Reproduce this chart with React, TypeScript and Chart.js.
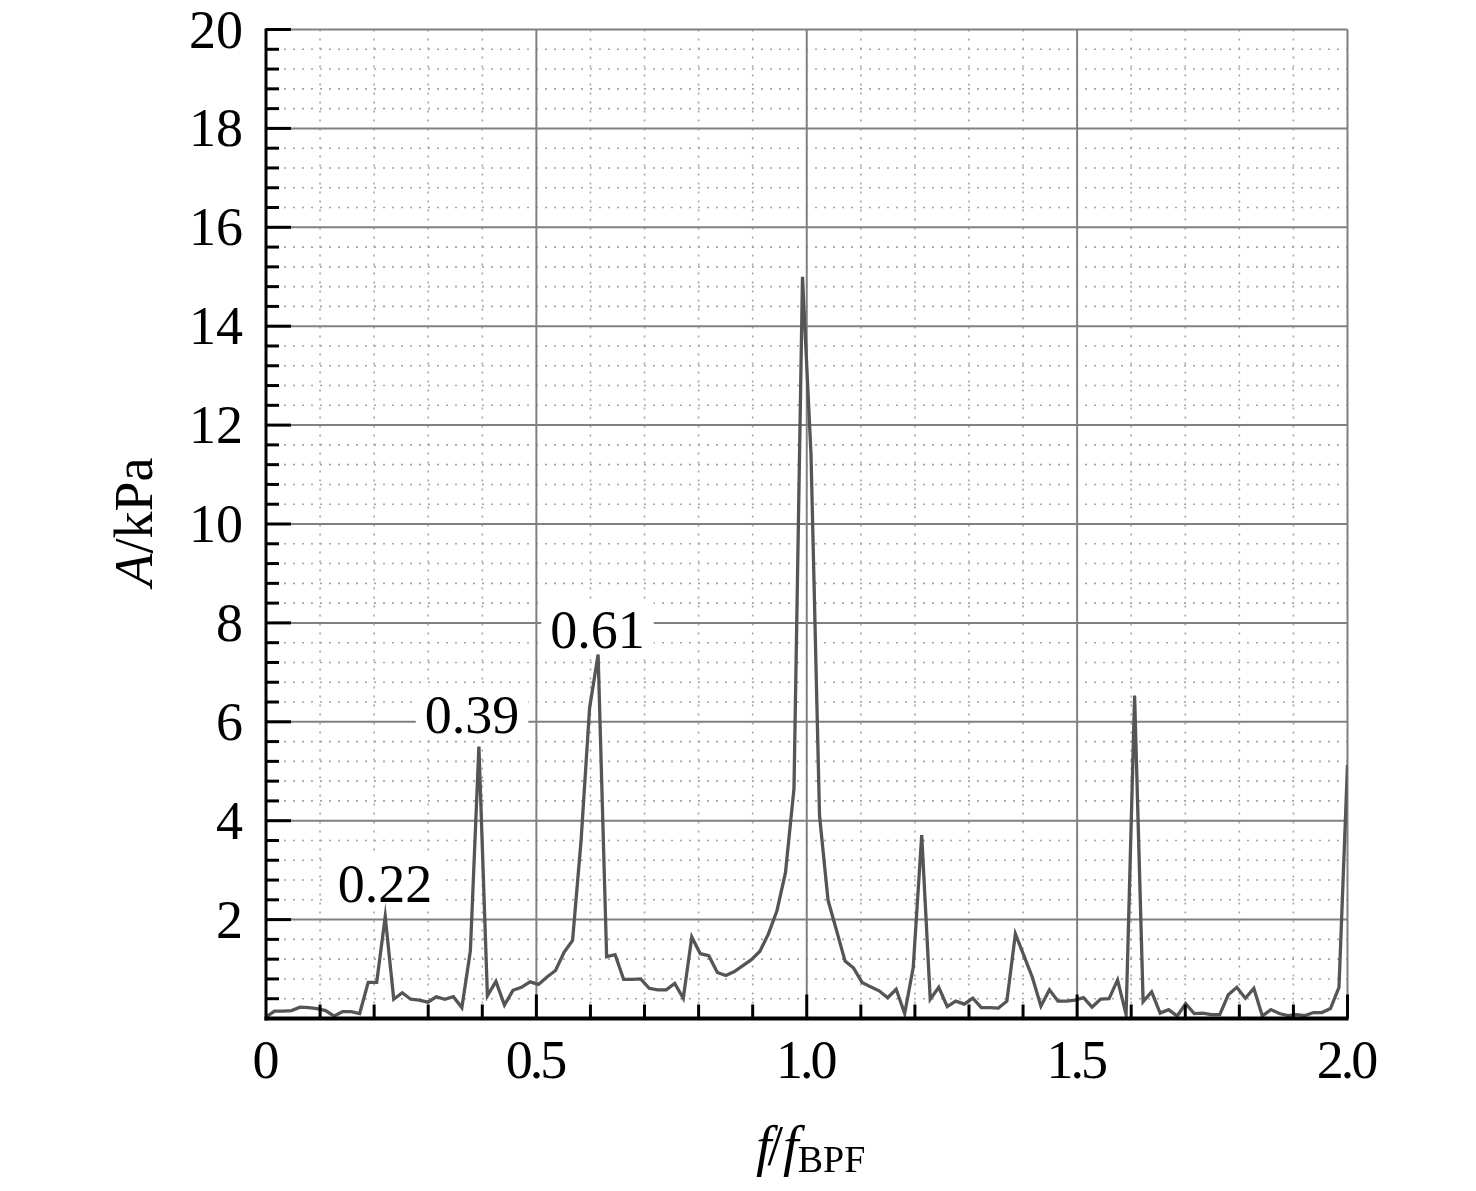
import React, { useEffect, useRef } from "react";
import { Chart, registerables } from "chart.js";

Chart.register(...registerables);

// spectrum sample spacing in f/f_BPF
const DF = 2 / 127;

// pressure amplitude A (kPa), one value per frequency bin
const amplitude = [
  0.03, 0.15, 0.15, 0.16, 0.23, 0.22, 0.2, 0.16, 0.05, 0.14,
  0.14, 0.1, 0.73, 0.73, 2.06, 0.39, 0.52, 0.39, 0.37, 0.33,
  0.44, 0.39, 0.44, 0.22, 1.37, 5.5, 0.46, 0.75, 0.27, 0.57,
  0.63, 0.74, 0.69, 0.84, 0.97, 1.34, 1.58, 3.6, 6.28, 7.36,
  1.25, 1.29, 0.79, 0.79, 0.8, 0.61, 0.58, 0.58, 0.71, 0.41,
  1.65, 1.31, 1.27, 0.93, 0.87, 0.95, 1.07, 1.19, 1.36, 1.71,
  2.18, 2.95, 4.65, 15.0, 11.4, 4.1, 2.39, 1.78, 1.16, 1.02,
  0.73, 0.64, 0.56, 0.42, 0.59, 0.1, 1.03, 3.71, 0.39, 0.63,
  0.24, 0.35, 0.29, 0.41, 0.22, 0.22, 0.21, 0.35, 1.71, 1.27,
  0.83, 0.25, 0.58, 0.35, 0.35, 0.37, 0.42, 0.23, 0.39, 0.4,
  0.78, 0.08, 6.53, 0.34, 0.54, 0.11, 0.18, 0.05, 0.3, 0.1,
  0.11, 0.08, 0.08, 0.48, 0.63, 0.41, 0.61, 0.05, 0.18, 0.1,
  0.06, 0.08, 0.06, 0.12, 0.12, 0.2, 0.63, 5.13,
];

const xTicks = [0, 0.5, 1.0, 1.5, 2.0];
const xTickLabels = ["0", "0.5", "1.0", "1.5", "2.0"];
const yTicks = [2, 4, 6, 8, 10, 12, 14, 16, 18, 20];

// peak annotations: text, x position (f/f_BPF), baseline (kPa)
const peakText = ["0.22", "0.39", "0.61"];
const peakX = [0.22, 0.381, 0.613];
const peakY = [2.36, 5.78, 7.5];

const serif = "'Liberation Serif', 'Times New Roman', serif";
const LABEL_SIZE = 54;

const line = (ctx: CanvasRenderingContext2D, x1: number, y1: number, x2: number, y2: number) => {
  ctx.beginPath();
  ctx.moveTo(x1, y1);
  ctx.lineTo(x2, y2);
  ctx.stroke();
};

const framePlugin = {
  id: "frame",
  beforeDatasetsDraw(chart: any) {
    const { ctx, chartArea: a, scales } = chart;
    const x = scales.x;
    const y = scales.y;
    ctx.save();
    // minor dotted grid
    ctx.strokeStyle = "#a4a4a4";
    ctx.lineWidth = 1.6;
    ctx.setLineDash([2, 7]);
    for (let k = 1; k < 20; k++) {
      if (k % 5 === 0) continue;
      const px = x.getPixelForValue(k * 0.1);
      line(ctx, px, a.top, px, a.bottom);
    }
    for (let k = 1; k < 50; k++) {
      if (k % 5 === 0) continue;
      const py = y.getPixelForValue(k * 0.4);
      line(ctx, a.left, py, a.right, py);
    }
    // major grid
    ctx.setLineDash([]);
    ctx.strokeStyle = "#808080";
    ctx.lineWidth = 2;
    xTicks.slice(1).forEach((v) => {
      const px = x.getPixelForValue(v);
      line(ctx, px, a.top, px, a.bottom);
    });
    yTicks.forEach((v) => {
      const py = y.getPixelForValue(v);
      line(ctx, a.left, py, a.right, py);
    });
    // white boxes behind peak labels
    ctx.font = `${LABEL_SIZE}px ${serif}`;
    ctx.fillStyle = "#ffffff";
    peakText.forEach((t, i) => {
      const w = ctx.measureText(t).width;
      const cx = x.getPixelForValue(peakX[i]);
      const by = y.getPixelForValue(peakY[i]);
      ctx.fillRect(cx - w / 2 - 9, by - 46, w + 18, 52);
    });
    ctx.restore();
  },
  afterDatasetsDraw(chart: any) {
    const { ctx, chartArea: a, scales } = chart;
    const x = scales.x;
    const y = scales.y;
    ctx.save();
    ctx.strokeStyle = "#000000";
    // ticks on the bottom axis
    ctx.lineWidth = 3;
    for (let k = 1; k <= 20; k++) {
      const px = x.getPixelForValue(k * 0.1);
      const len = k % 5 === 0 ? 24 : 14;
      line(ctx, px, a.bottom, px, a.bottom - len);
    }
    // ticks on the left axis
    for (let k = 1; k <= 50; k++) {
      const py = y.getPixelForValue(k * 0.4);
      const len = k % 5 === 0 ? 25 : 13;
      line(ctx, a.left, py, a.left + len, py);
    }
    // axis lines
    ctx.lineWidth = 3;
    line(ctx, a.left, a.top - 1, a.left, a.bottom + 2);
    ctx.lineWidth = 4;
    line(ctx, a.left - 1.5, a.bottom, a.right + 1, a.bottom);

    ctx.fillStyle = "#000000";
    ctx.textBaseline = "alphabetic";

    // tick labels
    ctx.font = `${LABEL_SIZE}px ${serif}`;
    ctx.textAlign = "right";
    yTicks.forEach((v) => {
      ctx.fillText(String(v), 243, y.getPixelForValue(v) + 18);
    });
    ctx.textAlign = "center";
    (ctx as any).letterSpacing = "-3px";
    xTicks.forEach((v, i) => {
      ctx.fillText(xTickLabels[i], x.getPixelForValue(v) - 1.5, 1078);
    });
    (ctx as any).letterSpacing = "0px";

    // peak labels
    peakText.forEach((t, i) => {
      ctx.fillText(t, x.getPixelForValue(peakX[i]), y.getPixelForValue(peakY[i]));
    });

    // x title: f/f_BPF
    ctx.textAlign = "left";
    const big = 56;
    const small = 38;
    let tx = 756;
    const ty = 1165;
    const parts: [string, string, number, number][] = [
      ["f", `italic ${big}px ${serif}`, 0, 0],
      ["/", `${big}px ${serif}`, 0, -4],
      ["f", `italic ${big}px ${serif}`, 0, 0],
      ["BPF", `${small}px ${serif}`, 7, -1],
    ];
    parts.forEach(([t, f, dy, kern]) => {
      ctx.font = f;
      tx += kern;
      ctx.fillText(t, tx, ty + dy);
      tx += ctx.measureText(t).width;
    });

    // y title: A/kPa, rotated
    ctx.translate(152, 522);
    ctx.rotate(-Math.PI / 2);
    const ya = `italic 54px ${serif}`;
    const yb = `54px ${serif}`;
    ctx.font = ya;
    const wA = ctx.measureText("A").width;
    ctx.font = yb;
    const wRest = ctx.measureText("/kPa").width;
    let sx = -(wA + wRest) / 2;
    ctx.font = ya;
    ctx.fillText("A", sx, 0);
    sx += wA;
    ctx.font = yb;
    ctx.fillText("/kPa", sx, 0);
    ctx.restore();
  },
};

const SpectrumChart = () => {
  const canvasRef = useRef<HTMLCanvasElement | null>(null);

  useEffect(() => {
    const ctx = canvasRef.current?.getContext("2d");
    if (!ctx) return;
    const points = amplitude.map((v, i) => ({ x: i * DF, y: v }));

    const chart = new Chart(ctx, {
      type: "line",
      data: {
        datasets: [
          {
            data: points,
            borderColor: "#555555",
            borderWidth: 3.3,
            pointRadius: 0,
            tension: 0,
            fill: false,
          },
        ],
      },
      options: {
        responsive: false,
        animation: false,
        devicePixelRatio: 1,
        layout: { padding: { left: 0, top: 29.5, right: 128.5, bottom: 0 } },
        plugins: { legend: { display: false }, tooltip: { enabled: false } },
        scales: {
          x: {
            type: "linear",
            min: 0,
            max: 2,
            grid: { display: false, drawTicks: false },
            border: { display: false },
            ticks: { display: false },
            afterFit: (s: any) => {
              s.height = 1191 - 1018.5;
              s.paddingLeft = 0;
              s.paddingRight = 0;
            },
          },
          y: {
            type: "linear",
            min: 0,
            max: 20,
            grid: { display: false, drawTicks: false },
            border: { display: false },
            ticks: { display: false },
            afterFit: (s: any) => {
              s.width = 266;
              s.paddingTop = 0;
              s.paddingBottom = 0;
            },
          },
        },
      },
      plugins: [framePlugin],
    } as any);

    return () => {
      chart.destroy();
    };
  }, []);

  return (
    <div
      style={{
        position: "fixed",
        left: 0,
        top: 0,
        width: 1476,
        height: 1191,
        background: "#ffffff",
      }}
    >
      <canvas ref={canvasRef} width={1476} height={1191} />
    </div>
  );
};

export default function App() {
  return <SpectrumChart />;
}
